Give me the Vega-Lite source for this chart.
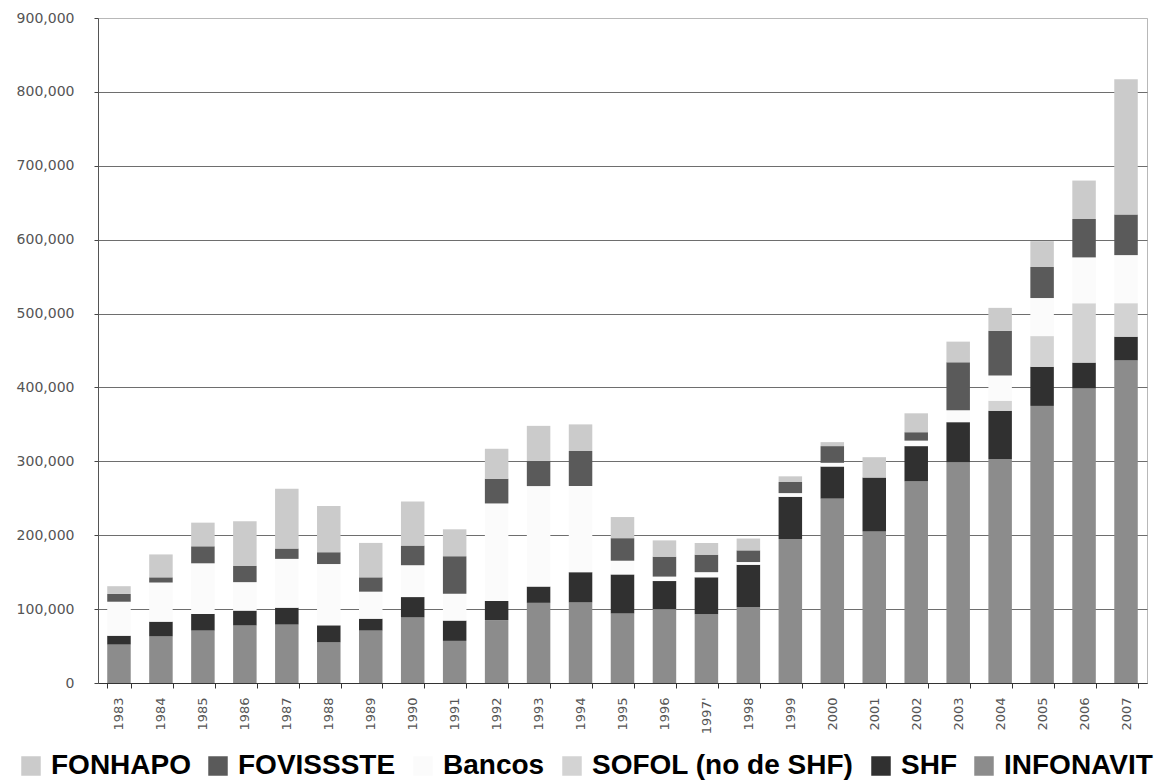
{
  "$schema": "https://vega.github.io/schema/vega-lite/v6.json",
  "autosize": {"type": "none"},
  "padding": {"left": 98, "top": 18, "right": 12, "bottom": 100},
  "width": 1049,
  "height": 665,
  "background": "white",
  "config": {
    "view": {"stroke": "#b8b8b8", "strokeWidth": 1},
    "font": "DejaVu Sans"
  },
  "data": {
    "values": [
      {"anio": "1983", "INFONAVIT": 52000, "SHF": 12000, "SOFOL (no de SHF)": 0, "Bancos": 46000, "FOVISSSTE": 10500, "FONHAPO": 10500},
      {"anio": "1984", "INFONAVIT": 63000, "SHF": 20000, "SOFOL (no de SHF)": 0, "Bancos": 53000, "FOVISSSTE": 7000, "FONHAPO": 31000},
      {"anio": "1985", "INFONAVIT": 71000, "SHF": 22500, "SOFOL (no de SHF)": 0, "Bancos": 68500, "FOVISSSTE": 23000, "FONHAPO": 32000},
      {"anio": "1986", "INFONAVIT": 78000, "SHF": 20000, "SOFOL (no de SHF)": 0, "Bancos": 38500, "FOVISSSTE": 22000, "FONHAPO": 60500},
      {"anio": "1987", "INFONAVIT": 79000, "SHF": 23000, "SOFOL (no de SHF)": 0, "Bancos": 66000, "FOVISSSTE": 14000, "FONHAPO": 81000},
      {"anio": "1988", "INFONAVIT": 55000, "SHF": 23000, "SOFOL (no de SHF)": 0, "Bancos": 83000, "FOVISSSTE": 16000, "FONHAPO": 62500},
      {"anio": "1989", "INFONAVIT": 71000, "SHF": 16000, "SOFOL (no de SHF)": 0, "Bancos": 36600, "FOVISSSTE": 19400, "FONHAPO": 46600},
      {"anio": "1990", "INFONAVIT": 88700, "SHF": 27600, "SOFOL (no de SHF)": 0, "Bancos": 43100, "FOVISSSTE": 26600, "FONHAPO": 59600},
      {"anio": "1991", "INFONAVIT": 57000, "SHF": 27500, "SOFOL (no de SHF)": 0, "Bancos": 36300, "FOVISSSTE": 50800, "FONHAPO": 36400},
      {"anio": "1992", "INFONAVIT": 85000, "SHF": 26000, "SOFOL (no de SHF)": 0, "Bancos": 132000, "FOVISSSTE": 33500, "FONHAPO": 40500},
      {"anio": "1993", "INFONAVIT": 108500, "SHF": 22000, "SOFOL (no de SHF)": 0, "Bancos": 136000, "FOVISSSTE": 34000, "FONHAPO": 47500},
      {"anio": "1994", "INFONAVIT": 109000, "SHF": 41000, "SOFOL (no de SHF)": 0, "Bancos": 116500, "FOVISSSTE": 47500, "FONHAPO": 36000},
      {"anio": "1995", "INFONAVIT": 94000, "SHF": 53000, "SOFOL (no de SHF)": 0, "Bancos": 18500, "FOVISSSTE": 30500, "FONHAPO": 28600},
      {"anio": "1996", "INFONAVIT": 100000, "SHF": 38000, "SOFOL (no de SHF)": 0, "Bancos": 6000, "FOVISSSTE": 27000, "FONHAPO": 22000},
      {"anio": "1997'", "INFONAVIT": 93000, "SHF": 50000, "SOFOL (no de SHF)": 0, "Bancos": 7000, "FOVISSSTE": 23700, "FONHAPO": 15800},
      {"anio": "1998", "INFONAVIT": 103000, "SHF": 57000, "SOFOL (no de SHF)": 0, "Bancos": 3700, "FOVISSSTE": 15800, "FONHAPO": 16000},
      {"anio": "1999", "INFONAVIT": 195000, "SHF": 57000, "SOFOL (no de SHF)": 0, "Bancos": 5000, "FOVISSSTE": 15000, "FONHAPO": 7700},
      {"anio": "2000", "INFONAVIT": 249600, "SHF": 43400, "SOFOL (no de SHF)": 0, "Bancos": 5000, "FOVISSSTE": 22600, "FONHAPO": 5400},
      {"anio": "2001", "INFONAVIT": 205000, "SHF": 73000, "SOFOL (no de SHF)": 0, "Bancos": 0, "FOVISSSTE": 0, "FONHAPO": 27600},
      {"anio": "2002", "INFONAVIT": 273000, "SHF": 47600, "SOFOL (no de SHF)": 0, "Bancos": 7400, "FOVISSSTE": 11400, "FONHAPO": 25600},
      {"anio": "2003", "INFONAVIT": 299000, "SHF": 54000, "SOFOL (no de SHF)": 0, "Bancos": 16000, "FOVISSSTE": 65000, "FONHAPO": 28000},
      {"anio": "2004", "INFONAVIT": 303000, "SHF": 65500, "SOFOL (no de SHF)": 13500, "Bancos": 34000, "FOVISSSTE": 60700, "FONHAPO": 31000},
      {"anio": "2005", "INFONAVIT": 375000, "SHF": 53000, "SOFOL (no de SHF)": 41500, "Bancos": 51500, "FOVISSSTE": 42000, "FONHAPO": 35000},
      {"anio": "2006", "INFONAVIT": 398600, "SHF": 35000, "SOFOL (no de SHF)": 80400, "Bancos": 62000, "FOVISSSTE": 52000, "FONHAPO": 52000},
      {"anio": "2007", "INFONAVIT": 436700, "SHF": 32000, "SOFOL (no de SHF)": 45400, "Bancos": 65000, "FOVISSSTE": 55000, "FONHAPO": 183000}
    ]
  },
  "transform": [
    {"fold": ["INFONAVIT", "SHF", "SOFOL (no de SHF)", "Bancos", "FOVISSSTE", "FONHAPO"], "as": ["fuente", "viviendas"]},
    {"calculate": "indexof(['INFONAVIT','SHF','SOFOL (no de SHF)','Bancos','FOVISSSTE','FONHAPO'], datum.fuente)", "as": "capa"}
  ],
  "mark": {"type": "bar"},
  "encoding": {
    "x": {
      "field": "anio",
      "type": "ordinal",
      "sort": null,
      "scale": {"paddingInner": 0.44, "paddingOuter": 0.22},
      "axis": {
        "title": null,
        "labelAngle": 270,
        "labelFont": "DejaVu Sans",
        "labelFontSize": 13,
        "labelColor": "#555555",
        "labelPadding": 9,
        "tickBand": "extent",
        "tickSize": 5,
        "tickColor": "#333333",
        "domainColor": "#333333",
        "grid": false
      }
    },
    "y": {
      "field": "viviendas",
      "type": "quantitative",
      "stack": "zero",
      "scale": {"domain": [0, 900000], "nice": false},
      "axis": {
        "title": null,
        "values": [0, 100000, 200000, 300000, 400000, 500000, 600000, 700000, 800000, 900000],
        "format": ",.0f",
        "labelFont": "DejaVu Sans",
        "labelFontSize": 14,
        "labelColor": "#555555",
        "labelPadding": 20,
        "tickSize": 4,
        "tickColor": "#444444",
        "domainColor": "#555555",
        "grid": true,
        "gridColor": {"condition": {"test": "datum.value === 900000", "value": "#b8b8b8"}, "value": "#6e6e6e"},
        "gridWidth": 1
      }
    },
    "color": {
      "field": "fuente",
      "type": "nominal",
      "scale": {
        "domain": ["FONHAPO", "FOVISSSTE", "Bancos", "SOFOL (no de SHF)", "SHF", "INFONAVIT"],
        "range": ["#cbcbcb", "#5a5a5a", "#fbfbfb", "#d3d3d3", "#303030", "#8c8c8c"]
      },
      "legend": {
        "title": null,
        "orient": "none",
        "direction": "horizontal",
        "legendX": -81,
        "legendY": 734,
        "symbolType": "square",
        "symbolSize": 380,
        "symbolStrokeWidth": 0,
        "labelFont": "Liberation Sans",
        "labelFontSize": 28,
        "labelFontWeight": "bold",
        "labelColor": "#000000",
        "labelOffset": 6,
        "columnPadding": 13,
        "labelLimit": 400
      }
    },
    "order": {"field": "capa", "type": "quantitative", "sort": "ascending"}
  }
}
